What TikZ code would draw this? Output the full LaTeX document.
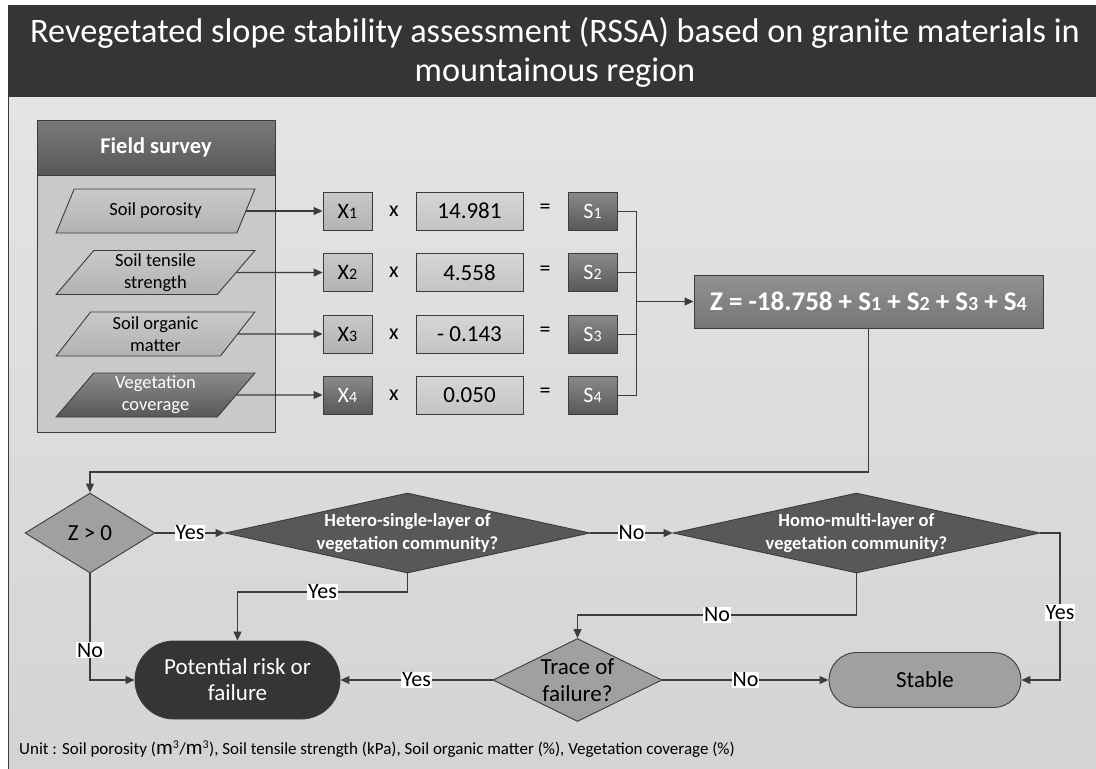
\documentclass[tikz,border=0pt]{standalone}
\usepackage{fontspec}
\setmainfont{Carlito}
\usetikzlibrary{shapes.geometric,shapes.misc,arrows.meta}

\definecolor{titledark}{RGB}{53,53,53}
\definecolor{paneltop}{RGB}{228,228,228}
\definecolor{panelbot}{RGB}{212,212,212}
\definecolor{boxlight}{RGB}{178,178,178}
\definecolor{valuelight}{RGB}{196,196,196}
\definecolor{boxmid}{RGB}{160,160,160}
\definecolor{boxdark}{RGB}{88,88,88}
\definecolor{zgray}{RGB}{118,118,118}
\definecolor{flowline}{RGB}{60,60,60}

\newcommand{\idx}[1]{{\fontsize{16}{16}\selectfont #1}}
\newcommand{\zidx}[1]{{\fontsize{20}{20}\selectfont #1}}

\begin{document}
\begin{tikzpicture}[
  x=1pt, y=-1pt,
  shadebox/.style={
    draw=flowline,
    line width=0.9pt,
    top color=#1!70!white,
    bottom color=#1
  },
  param/.style={
    trapezium,
    trapezium left angle=57,
    trapezium right angle=123,
    trapezium stretches=true,
    shadebox=#1,
    minimum width=199pt,
    minimum height=44pt,
    inner sep=0pt,
    align=center,
    font=\fontsize{18.5}{22}\selectfont
  },
  xbox/.style={
    rectangle,
    shadebox=#1,
    minimum width=49pt,
    minimum height=38pt,
    inner sep=0pt,
    font=\fontsize{22}{24}\selectfont
  },
  valbox/.style={
    rectangle,
    shadebox=valuelight,
    minimum width=107pt,
    minimum height=38pt,
    inner sep=0pt,
    font=\fontsize{23}{25}\selectfont
  },
  sbox/.style={
    rectangle,
    shadebox=boxdark,
    text=white,
    minimum width=49pt,
    minimum height=38pt,
    inner sep=0pt,
    font=\fontsize{22}{24}\selectfont
  },
  decision/.style={
    diamond,
    draw=flowline,
    line width=0.9pt,
    fill=#1,
    inner sep=0pt,
    align=center
  },
  terminal/.style={
    rounded rectangle,
    draw=flowline,
    line width=0.9pt,
    fill=#1,
    inner sep=0pt,
    align=center,
    font=\fontsize{23}{26}\selectfont
  },
  flow/.style={
    draw=flowline,
    line width=1.1pt
  },
  arrow/.style={
    flow,
    -{Triangle[length=9pt,width=8pt]}
  },
  tag/.style={
    fill=white,
    inner sep=1pt,
    text=black,
    font=\fontsize{22}{24}\selectfont
  }
]
\useasboundingbox (0,0) rectangle (1096,769);

% frame and title
\fill[white] (0,0) rectangle (1096,769);
\shade[top color=paneltop, bottom color=panelbot] (8,97) rectangle (1096,769);
\draw[flowline, line width=1pt] (8.5,97) -- (8.5,769);
\fill[titledark] (8,5) rectangle (1096,97);
\node[text=white, align=center, font=\fontsize{34.3}{39}\selectfont] (title) at (555,52.5)
  {Revegetated slope stability assessment (RSSA) based on granite materials in\\mountainous region};

% field survey panel
\node[draw=flowline, line width=0.9pt, fill=boxlight!70!white, minimum width=238pt, minimum height=312pt,
  inner sep=0pt] (survey) at (156,276) {};
\node[draw=flowline, line width=0.9pt, top color=boxdark!80!white, bottom color=boxdark, text=white,
  minimum width=238pt, minimum height=55pt, inner sep=0pt,
  font=\bfseries\fontsize{22.5}{24}\selectfont] (surveyhead) at (156,147.5) {Field survey};

% inputs, coefficients and scores
\foreach \i/\y/\lbl/\val/\pfill/\tcol in {
  1/211/{Soil porosity}/14.981/boxlight/black,
  2/272.5/{Soil tensile\\strength}/4.558/boxlight/black,
  3/334/{Soil organic\\matter}/- 0.143/boxlight/black,
  4/395/{Vegetation\\coverage}/0.050/boxdark/white} {
  \node[param=\pfill, text=\tcol] (P\i) at (155.5,\y) {\lbl};
  \node[xbox=\pfill, text=\tcol] (X\i) at (347.5,\y) {X\idx{\i}};
  \node[font=\fontsize{22}{24}\selectfont] (times\i) at (394,\y) {x};
  \node[font=\fontsize{22}{24}\selectfont] (eq\i) at (545,\y-2) {=};
  \node[valbox] (C\i) at (469.5,\y) {\val};
  \node[sbox] (S\i) at (592.5,\y) {S\idx{\i}};
  \draw[arrow] (P\i.east) -- (X\i.west);
}

% sum
\node[rectangle, draw=flowline, line width=0.9pt, top color=zgray!80!white, bottom color=zgray,
  text=white, minimum width=349pt, minimum height=53pt, inner sep=0pt,
  font=\bfseries\fontsize{27}{29}\selectfont] (Z) at (868.5,301.5)
  {Z = -18.758 + S\zidx{1} + S\zidx{2} + S\zidx{3} + S\zidx{4}};
\coordinate (join) at (636,301.5);
\foreach \i in {1,...,4} {
  \draw[flow, line width=0.9pt] (S\i.east) -| (join);
}
\draw[arrow] (join) -- (Z.west);

% decisions
\node[decision=boxmid, aspect=1.6, minimum width=130pt, minimum height=80pt,
  font=\fontsize{23}{25}\selectfont] (zpos) at (90,533) {Z > 0};
\node[decision=boxdark, aspect=4.56, minimum width=365pt, minimum height=80pt, text=white,
  font=\bfseries\fontsize{18.5}{23}\selectfont] (hetero) at (407.5,533)
  {Hetero-single-layer of\\vegetation community?};
\node[decision=boxdark, aspect=4.56, minimum width=367pt, minimum height=80pt, text=white,
  font=\bfseries\fontsize{18.5}{23}\selectfont] (homo) at (856.5,533)
  {Homo-multi-layer of\\vegetation community?};
\node[decision=boxmid, aspect=2, minimum width=169pt, minimum height=83pt,
  font=\fontsize{23}{27}\selectfont] (trace) at (577.5,680) {Trace of\\failure?};

% outcomes
\node[terminal=titledark, text=white, minimum width=205pt, minimum height=78pt] (risk) at (237.5,680)
  {Potential risk or\\failure};
\node[terminal=boxmid, minimum width=192pt, minimum height=55pt] (stable) at (925,680) {Stable};

% connectors
\coordinate (back) at (90,472);
\coordinate (hetbend) at (237.5,592);
\coordinate (hombend) at (577.5,615);
\coordinate (yesbend) at (1060,533);
\draw[arrow] (Z.south) |- (back) -- (zpos.north);
\draw[arrow] (zpos.east) -- node[tag]{Yes} (hetero.west);
\draw[arrow] (hetero.east) -- node[tag]{No} (homo.west);
\draw[arrow] (hetero.south) |- node[tag, pos=0.75]{Yes} (hetbend) -- (risk.north);
\draw[arrow] (zpos.south) |- node[tag, pos=0.36]{No} (risk.west);
\draw[arrow] (homo.south) |- node[tag, pos=0.75]{No} (hombend) -- (trace.north);
\draw[arrow] (homo.east) -- (yesbend) |- node[tag, pos=0.27]{Yes} (stable.east);
\draw[arrow] (trace.west) -- node[tag]{Yes} (risk.east);
\draw[arrow] (trace.east) -- node[tag]{No} (stable.west);

% footnote
\node[anchor=west, inner sep=0pt, font=\fontsize{17}{19}\selectfont] (unit) at (19,749)
  {Unit : Soil porosity ({\fontsize{21}{21}\selectfont m}\textsuperscript{3}/{\fontsize{21}{21}\selectfont m}\textsuperscript{3}), Soil tensile strength (kPa), Soil organic matter (\%), Vegetation coverage (\%)};
\end{tikzpicture}
\end{document}
